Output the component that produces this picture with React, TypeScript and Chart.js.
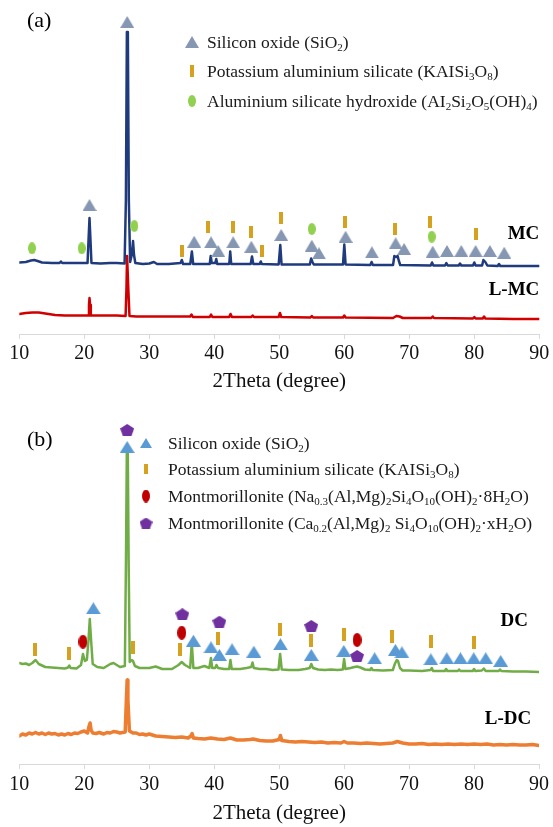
import React, { useEffect, useRef } from 'react';
import { Chart, registerables } from 'chart.js';
Chart.register(...registerables);

type Pt = [number, number];
type Seg = [string, boolean];
const SERIF = '"Liberation Serif", "Times New Roman", Times, serif';

// ---------- Panel (a): intensity (a.u., stacked) vs 2θ ----------
const MC: Pt[] = [
  [10, 71.5], [11, 72], [11.8, 73.5], [12.3, 74], [12.8, 73], [13.5, 71.5], [15, 71], [16.2, 71], [16.4, 72.5], [16.6, 71],
  [18, 71], [19.5, 71], [20.5, 71], [20.65, 94], [20.8, 116], [20.95, 94], [21.1, 71], [22.5, 70.5], [24, 71], [25, 71],
  [26.2, 70.5], [26.4, 134], [26.55, 302], [26.7, 302], [26.85, 134], [27.05, 72], [27.3, 79], [27.5, 93], [27.65, 79], [27.85, 71],
  [29, 70], [30, 70.5], [30.7, 72], [31.2, 70], [33, 70], [34.8, 71], [35, 74], [35.2, 70], [36.3, 70], [36.55, 82.5],
  [36.75, 70], [39.3, 70], [39.45, 78], [39.6, 71], [40.15, 71], [40.3, 75], [40.45, 70], [42.3, 70], [42.45, 82.5], [42.6, 70],
  [45.6, 70], [45.8, 77.5], [46, 70], [47, 70], [47.15, 72.5], [47.3, 70], [49.9, 69.5], [50.15, 89], [50.35, 69.5], [54.7, 69.5],
  [54.9, 75.5], [55.1, 72], [55.3, 69.5], [59.8, 69.5], [60, 89.5], [60.2, 69.5], [64, 69], [64.2, 72], [64.4, 69], [67.5, 69],
  [67.7, 78], [68, 77], [68.2, 78], [68.4, 73], [68.6, 69], [73.3, 68.5], [73.5, 71.5], [73.7, 68.5], [75.5, 68.5], [75.7, 71],
  [75.9, 68.5], [77.6, 68.5], [77.8, 70.5], [78, 68.5], [79.8, 68.5], [80, 71.5], [80.2, 68.5], [81.2, 68.5], [81.4, 74], [81.7, 72],
  [82, 68.5], [83.6, 68], [83.8, 70], [84, 68], [86, 68], [88, 68], [90, 68],
];
const L_MC: Pt[] = [
  [10, 20], [11, 21], [12, 21.5], [13, 21.5], [14, 20.5], [15.5, 19], [17, 18.5], [19, 18.5], [20.6, 18.5], [20.72, 29],
  [20.8, 36], [20.9, 29], [21, 18.5], [23, 18.5], [25, 18.5], [26.35, 18], [26.48, 44], [26.58, 78], [26.68, 78], [26.78, 44],
  [26.95, 18], [28, 17.5], [30, 17.5], [33, 17.5], [36.3, 17.5], [36.5, 19.5], [36.7, 17], [39.3, 17], [39.5, 19.5], [39.7, 17],
  [42.3, 17], [42.5, 20], [42.7, 17], [45.7, 17], [45.9, 18.5], [46.1, 17], [49.9, 17], [50.1, 21], [50.3, 17], [54.8, 16.5],
  [55, 18], [55.2, 16.5], [59.8, 16.5], [60, 18.5], [60.2, 16.5], [67.5, 16], [68, 18], [68.5, 17.5], [69, 16], [73.4, 16],
  [73.6, 17.5], [73.8, 16], [79.8, 15.5], [80, 17], [80.2, 15.5], [81.3, 15.5], [81.5, 17.5], [81.7, 15.5], [86, 15], [90, 15],
];
const A_SIO2: Pt[] = [
  [20.8, 129], [26.6, 312], [36.9, 92.3], [39.5, 91.7], [40.6, 83], [42.9, 91.7], [45.7, 87.3], [50.3, 99], [55, 88.3], [56.1, 80.7],
  [60.2, 97.3], [64.25, 81.7], [67.9, 90.7], [69.2, 85], [73.6, 82.3], [75.8, 83], [78, 83], [80.2, 83], [82.4, 83], [84.6, 81.3],
];
const A_KALSI: Pt[] = [
  [35, 83.3], [39.1, 106.7], [42.8, 106.7], [45.7, 101.7], [47.4, 83.3], [50.3, 115.7], [60.1, 111.7], [67.85, 105], [73.2, 112.3], [80.2, 100],
];
const A_KAOL: Pt[] = [[11.95, 85.7], [19.6, 85.7], [27.7, 108], [55, 105], [73.45, 97.3]];

// ---------- Panel (b) ----------
const DC: Pt[] = [
  [10, 101], [10.5, 100], [11, 100.5], [11.5, 99], [12, 101], [12.5, 104], [13, 100], [14, 97], [15, 96.5], [16, 96],
  [17, 95.5], [17.5, 96.5], [17.7, 98.5], [17.9, 96], [18.8, 95.5], [19.5, 99], [19.8, 110], [20.1, 103], [20.4, 104], [20.65, 124],
  [20.85, 145], [21.05, 124], [21.3, 100], [22, 97], [23, 96], [24, 100], [24.5, 101], [25, 99], [25.5, 97], [26.25, 98],
  [26.42, 204], [26.55, 311], [26.7, 311], [26.83, 204], [27, 102], [27.3, 104], [27.5, 103], [27.8, 98], [28.5, 96], [30, 96],
  [31, 97.5], [32, 95], [33.5, 95], [34.5, 99], [35, 102], [35.5, 99], [36.3, 96], [36.55, 121], [36.8, 96], [37.5, 96],
  [38.5, 98], [39.25, 96], [39.5, 106], [39.7, 96], [40.15, 96], [40.35, 99], [40.6, 96], [41.5, 95], [42.3, 95], [42.5, 104],
  [42.7, 95], [44, 95], [45, 96], [45.7, 97], [45.9, 101.5], [46.1, 96], [47, 95], [48, 95], [49, 94], [49.9, 94.5],
  [50.15, 110], [50.4, 94.5], [51.5, 94], [53, 94], [54, 95], [54.7, 96], [54.95, 100], [55.2, 96], [56, 94.5], [57, 94],
  [58, 94.5], [59, 94], [59.8, 94.5], [60, 105], [60.2, 95], [61, 96], [61.6, 97], [62, 97.5], [62.5, 96.5], [63.2, 94.5],
  [64, 94], [64.2, 96], [64.4, 94], [66, 93.5], [67.5, 94], [67.8, 100], [68.1, 104], [68.3, 103], [68.6, 96], [69, 93.5],
  [70, 93.5], [72, 93], [73.3, 94], [73.5, 96], [73.7, 93], [75.5, 93], [75.7, 95], [75.9, 93], [77.5, 93], [77.7, 94.5],
  [77.9, 93], [79.8, 93], [80, 95], [80.2, 93], [81.2, 93.5], [81.5, 95.5], [81.8, 93], [83.8, 93], [84, 94.5], [84.2, 93],
  [86, 92.5], [88, 92.5], [90, 92],
];
const L_DC: Pt[] = [
  [10, 28], [10.5, 30], [11, 29], [11.5, 31], [12, 30], [12.5, 31.5], [13, 30], [13.5, 31], [14, 29.5], [14.5, 31],
  [15, 30], [15.5, 30.5], [16, 29], [16.5, 30], [17, 29], [17.5, 30.5], [18, 29.5], [18.5, 31], [19, 30.5], [19.5, 32],
  [20, 33], [20.5, 31], [20.75, 38], [20.9, 41], [21.05, 34], [21.3, 31], [21.8, 30.5], [22.3, 31.5], [23, 30], [23.5, 31.5],
  [24, 31], [24.5, 32.5], [25, 32], [25.5, 31], [26.3, 32], [26.48, 64], [26.6, 84], [26.72, 64], [26.95, 33], [27.5, 31],
  [28, 31], [28.5, 29.5], [29, 30], [29.5, 29], [30, 30], [31, 28], [32, 27.5], [33, 27], [34, 26.5], [35, 27],
  [36, 26], [36.4, 28], [36.6, 30.5], [36.8, 26], [37.5, 25.5], [38.5, 25], [39.5, 26], [40.5, 25], [41.5, 24.5], [42.5, 26],
  [43.5, 24], [44.5, 24], [45.5, 24.5], [46, 25], [47, 23.5], [48, 23], [49, 23], [50, 24.5], [50.2, 28.5], [50.4, 23.5],
  [51.5, 22.5], [52.5, 22], [53.5, 22.5], [54.5, 22], [55.5, 21.5], [56.5, 22], [57.5, 21], [58.5, 21.5], [59.5, 21], [60, 22.5],
  [60.5, 21], [61.5, 21], [62.5, 20.5], [63.5, 21], [64.5, 20.5], [65.5, 20], [66.5, 20.5], [67.5, 21], [68.2, 22.5], [69, 21],
  [70, 20], [71, 20], [72, 20.5], [73, 19.5], [74, 20], [75, 19.5], [76, 20], [77, 19.5], [78, 20], [79, 19.5],
  [80, 20], [81, 19.5], [82, 20], [83, 19], [84, 19.5], [85, 19], [86, 19.5], [87, 19], [88, 19], [89, 19.5], [90, 18.5],
];
const B_SIO2: Pt[] = [
  [26.6, 317], [21.4, 155.7], [36.8, 123.3], [39.5, 116.7], [40.8, 109], [42.75, 114.7], [46.1, 112.3], [50.2, 119.7], [54.95, 109], [59.95, 113],
  [64.7, 105.7], [67.9, 114], [68.9, 111.7], [73.35, 104.7], [75.8, 105.7], [77.9, 105.7], [79.95, 105.7], [81.8, 105.7], [84.1, 103],
];
const B_KALSI: Pt[] = [
  [12.46, 114.7], [17.7, 110.7], [27.5, 116.7], [34.8, 114.7], [40.6, 125.7], [50.2, 134.7], [54.95, 124], [59.95, 129.7], [67.4, 127.3], [73.35, 122.3], [79.95, 121.3],
];
const B_NAMONT: Pt[] = [[19.8, 122.3], [35, 131.3], [62, 124]];
const B_CAMONT: Pt[] = [[26.6, 334], [35.1, 149.7], [40.8, 142.3], [54.95, 138], [62, 108]];

const X_TICKS = [10, 20, 30, 40, 50, 60, 70, 80, 90];
const X_TITLE = '2Theta (degree)';

const A_LABELS = [{ text: 'MC', x: 90, y: 100 }, { text: 'L-MC', x: 90, y: 44 }];
const B_LABELS = [{ text: 'DC', x: 88.3, y: 142.5 }, { text: 'L-DC', x: 88.8, y: 45 }];

const LEG_SIO2: Seg[] = [['Silicon oxide (SiO', false], ['2', true], [')', false]];
const LEG_KALSI: Seg[] = [['Potassium aluminium silicate (KAISi', false], ['3', true], ['O', false], ['8', true], [')', false]];
const LEG_KAOL: Seg[] = [['Aluminium silicate hydroxide (AI', false], ['2', true], ['Si', false], ['2', true], ['O', false], ['5', true], ['(OH)', false], ['4', true], [')', false]];
const LEG_NAMONT: Seg[] = [['Montmorillonite (Na', false], ['0.3', true], ['(Al,Mg)', false], ['2', true], ['Si', false], ['4', true], ['O', false], ['10', true], ['(OH)', false], ['2', true], ['·8H', false], ['2', true], ['O)', false]];
const LEG_CAMONT: Seg[] = [['Montmorillonite (Ca', false], ['0.2', true], ['(Al,Mg)', false], ['2', true], [' Si', false], ['4', true], ['O', false], ['10', true], ['(OH)', false], ['2', true], ['·xH', false], ['2', true], ['O)', false]];

const pts = (a: Pt[]) => a.map(([x, y]) => ({ x, y }));

function mk(w: number, h: number, draw: (g: CanvasRenderingContext2D) => void) {
  const c = document.createElement('canvas');
  c.width = w; c.height = h;
  const g = c.getContext('2d')!;
  draw(g);
  return c;
}
const tri = (col: string, w: number, h: number) => mk(w, h, g => { g.fillStyle = col; g.beginPath(); g.moveTo(w / 2, 0); g.lineTo(w, h); g.lineTo(0, h); g.closePath(); g.fill(); });
const ell = (col: string, w: number, h: number) => mk(w, h, g => { g.fillStyle = col; g.beginPath(); g.ellipse(w / 2, h / 2, w / 2, h / 2, 0, 0, Math.PI * 2); g.fill(); });
const bar = (col: string, w: number, h: number) => mk(w, h, g => { g.fillStyle = col; g.fillRect(0, 0, w, h); });
const pent = (col: string, w: number, h: number) => mk(w, h, g => {
  g.fillStyle = col; g.beginPath();
  for (let k = 0; k < 5; k++) {
    const a = -Math.PI / 2 + (k * 2 * Math.PI) / 5;
    const px = ((Math.cos(a) + 0.951) / 1.902) * w;
    const py = ((Math.sin(a) + 1) / 1.809) * h;
    if (k === 0) g.moveTo(px, py); else g.lineTo(px, py);
  }
  g.closePath(); g.fill();
});

function drawRich(ctx: CanvasRenderingContext2D, segs: Seg[], x: number, y: number, size: number) {
  ctx.textAlign = 'left';
  ctx.textBaseline = 'alphabetic';
  const base = y + size * 0.33;
  for (const [t, sub] of segs) {
    ctx.font = `${sub ? Math.round(size * 0.63) : size}px ${SERIF}`;
    ctx.fillText(t, x, sub ? base + size * 0.16 : base);
    x += ctx.measureText(t).width;
  }
}

interface PanelCfg {
  yMax: number;
  tickPad: number;
  titlePadBottom: number;
  lines: { data: Pt[]; color: string; width: number }[];
  markers: { data: Pt[]; img: HTMLCanvasElement }[];
  legend: { img: HTMLCanvasElement; segs: Seg[] }[];
  legendMarkX: number;
  legendTextX: number;
  legendRows: number[];
  tag: string;
  tagX: number;
  tagY: number;
  labels: { text: string; x: number; y: number }[];
}

function makeChart(canvas: HTMLCanvasElement, cfg: PanelCfg) {
  const overlay = {
    id: 'overlay',
    afterDraw(chart: any) {
      const ctx: CanvasRenderingContext2D = chart.ctx;
      ctx.save();
      cfg.legend.forEach((it, i) => {
        const y = cfg.legendRows[i];
        ctx.drawImage(it.img, cfg.legendMarkX - it.img.width / 2, y - it.img.height / 2);
        ctx.fillStyle = '#1a1a1a';
        drawRich(ctx, it.segs, cfg.legendTextX, y, 17.5);
      });
      ctx.font = `22px ${SERIF}`;
      ctx.textAlign = 'left';
      ctx.textBaseline = 'middle';
      ctx.fillStyle = '#000';
      ctx.fillText(cfg.tag, cfg.tagX, cfg.tagY);
      const xs = chart.scales.x, ys = chart.scales.y;
      ctx.font = `bold 19px ${SERIF}`;
      ctx.textAlign = 'right';
      cfg.labels.forEach(l => ctx.fillText(l.text, xs.getPixelForValue(l.x), ys.getPixelForValue(l.y)));
      ctx.restore();
    },
  };
  const datasets: any[] = [
    ...cfg.markers.map(m => ({
      data: pts(m.data), showLine: false, pointStyle: m.img, pointRadius: 6, pointHoverRadius: 6, clip: false,
    })),
    ...cfg.lines.map(l => ({
      data: pts(l.data), showLine: true, borderColor: l.color, borderWidth: l.width, pointRadius: 0, tension: 0,
      borderJoinStyle: 'round', borderCapStyle: 'round', fill: false,
    })),
  ];
  return new Chart(canvas, {
    type: 'scatter',
    data: { datasets },
    options: {
      responsive: false,
      animation: false,
      events: [],
      layout: { padding: { left: 19.3, right: 13.7, top: 10, bottom: 0 } },
      plugins: { legend: { display: false }, tooltip: { enabled: false } },
      scales: {
        x: {
          type: 'linear', min: 10, max: 90, position: 'bottom',
          afterBuildTicks: (s: any) => { s.ticks = X_TICKS.map(v => ({ value: v })); },
          ticks: { color: '#111', font: { family: SERIF, size: 20 }, padding: cfg.tickPad, maxRotation: 0, autoSkip: false },
          grid: { display: true, drawOnChartArea: false, drawTicks: true, tickLength: 5, color: '#D9D9D9', lineWidth: 1 },
          border: { display: true, color: '#D9D9D9', width: 1 },
          title: { display: true, text: X_TITLE, color: '#111', font: { family: SERIF, size: 21 }, padding: { top: 0, bottom: cfg.titlePadBottom } },
        },
        y: { type: 'linear', display: false, min: 0, max: cfg.yMax },
      },
    },
    plugins: [overlay],
  } as any);
}

export default function App() {
  const refA = useRef<HTMLCanvasElement>(null);
  const refB = useRef<HTMLCanvasElement>(null);
  useEffect(() => {
    const triA = tri('#8597B2', 14, 12);
    const barA = bar('#D6A11E', 4, 12);
    const ellA = ell('#92D050', 8, 12);
    const triB = tri('#5B9BD5', 15, 12);
    const barB = bar('#D6A11E', 4, 13);
    const ellB = ell('#C00000', 9, 14);
    const penB = pent('#7030A0', 14, 12);
    const ca = makeChart(refA.current!, {
      yMax: 324, tickPad: 3, titlePadBottom: 5.8,
      lines: [
        { data: MC, color: '#1F3A7D', width: 2.5 },
        { data: L_MC, color: '#D00000', width: 2.5 },
      ],
      markers: [
        { data: A_SIO2, img: triA },
        { data: A_KALSI, img: barA },
        { data: A_KAOL, img: ellA },
      ],
      legend: [
        { img: triA, segs: LEG_SIO2 },
        { img: barA, segs: LEG_KALSI },
        { img: ellA, segs: LEG_KAOL },
      ],
      legendMarkX: 192, legendTextX: 207, legendRows: [42, 71, 101],
      tag: '(a)', tagX: 27, tagY: 21,
      labels: A_LABELS,
    });
    const cb = makeChart(refB.current!, {
      yMax: 354, tickPad: 4, titlePadBottom: 0.8,
      lines: [
        { data: DC, color: '#70AD47', width: 2.5 },
        { data: L_DC, color: '#ED7D31', width: 3.5 },
      ],
      markers: [
        { data: B_SIO2, img: triB },
        { data: B_KALSI, img: barB },
        { data: B_NAMONT, img: ellB },
        { data: B_CAMONT, img: penB },
      ],
      legend: [
        { img: tri('#5B9BD5', 12, 10), segs: LEG_SIO2 },
        { img: bar('#D6A11E', 4, 10), segs: LEG_KALSI },
        { img: ell('#C00000', 8, 13), segs: LEG_NAMONT },
        { img: pent('#7030A0', 13, 11), segs: LEG_CAMONT },
      ],
      legendMarkX: 146, legendTextX: 168, legendRows: [43, 69, 96, 123],
      tag: '(b)', tagX: 27, tagY: 40,
      labels: B_LABELS,
    });
    return () => { ca.destroy(); cb.destroy(); };
  }, []);
  return (
    <div style={{ position: 'absolute', left: 0, top: 0, width: 553, height: 827, background: '#fff' }}>
      <canvas ref={refA} width={553} height={400} style={{ display: 'block', width: 553, height: 400 }} />
      <canvas ref={refB} width={553} height={427} style={{ display: 'block', width: 553, height: 427 }} />
    </div>
  );
}
